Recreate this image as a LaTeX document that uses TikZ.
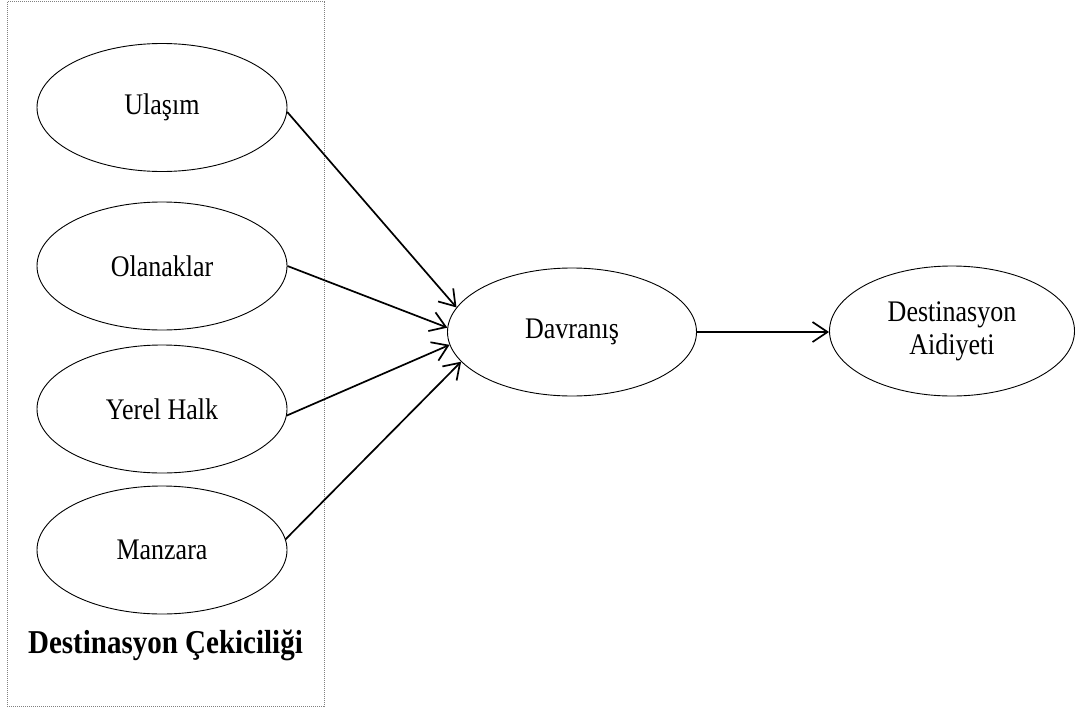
\documentclass[tikz,border=0pt]{standalone}
\usepackage{fontspec}
\usepackage{graphicx}
\setmainfont{Liberation Serif}
\usetikzlibrary{shapes.geometric,arrows.meta}

% glyphs set slightly taller than wide
\newcommand{\tallertext}[1]{\scalebox{1}[1.15]{#1}}

\begin{document}
\begin{tikzpicture}[x=1pt,y=-1pt,
  factor/.style={ellipse,draw,line width=0.9pt,minimum width=250pt,minimum height=128pt,
    inner sep=0pt,align=center,font=\fontsize{26}{33}\selectfont},
  link/.style={line width=1.7pt,-{Straight Barb[length=15pt,width=20pt,line width=1.7pt]}}]
  \useasboundingbox (0,0) rectangle (1075,709);

  % dotted frame around the attraction factors
  \draw[gray,densely dotted,line width=1pt] (7,2) rectangle (324,706);

  \node[factor] (u) at (162,107.5) {\tallertext{Ulaşım}};
  \node[factor] (o) at (162,266) {\tallertext{Olanaklar}};
  \node[factor] (y) at (162,409) {\tallertext{Yerel Halk}};
  \node[factor] (m) at (162,550) {\tallertext{Manzara}};
  \node[font=\bfseries\fontsize{29}{34}\selectfont] (dc) at (165.5,645) {\tallertext{Destinasyon Çekiciliği}};

  \node[factor,minimum width=249pt] (d) at (572,332) {\tallertext{Davranış}};
  \node[factor,minimum width=245pt,minimum height=130pt] (a) at (952,331)
    {\tallertext{Destinasyon}\\\tallertext{Aidiyeti}};

  \draw[link] (u.-2.5) -- (d.168);
  \draw[link] (o.-0.5) -- (d.178.6);
  \draw[link] (y.-3.2) -- (d.186);
  \draw[link] (m.5) -- (d.195.5);
  \draw[link] (d.east) -- (d.east -| a.west);
\end{tikzpicture}
\end{document}
